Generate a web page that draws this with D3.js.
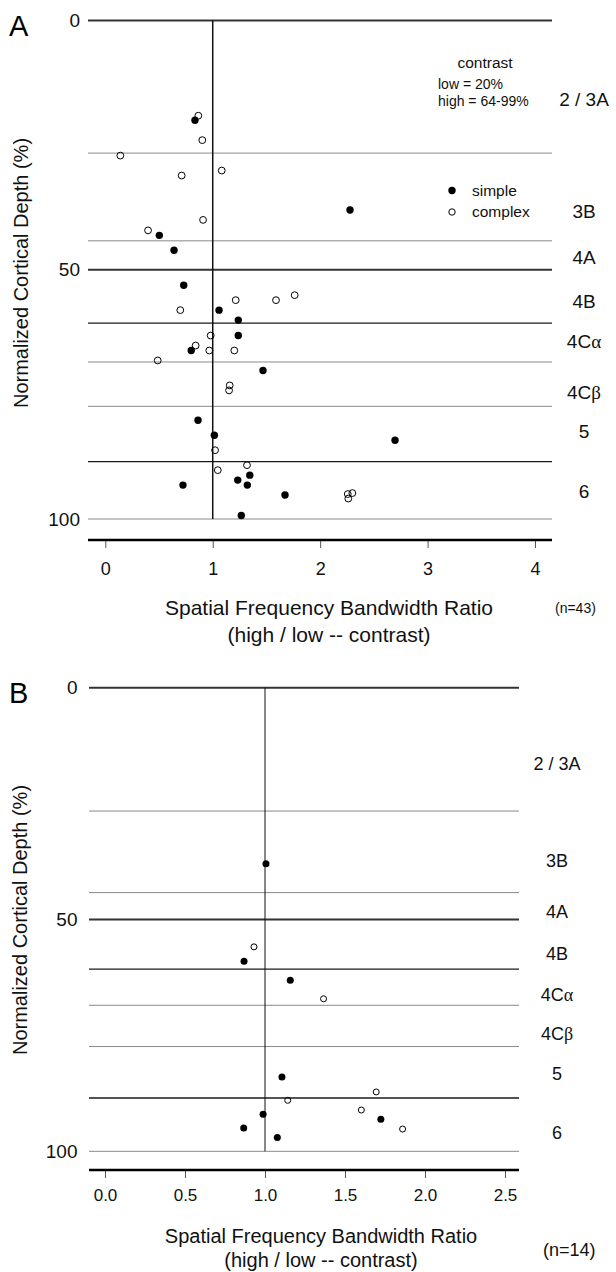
<!DOCTYPE html>
<html>
<head>
<meta charset="utf-8">
<script src="https://cdnjs.cloudflare.com/ajax/libs/d3/7.8.5/d3.min.js"></script>
<style>
body { margin: 0; background: #fff; }
svg { display: block; font-family: "Liberation Sans", Arial, sans-serif; }
</style>
</head>
<body>
<svg id="fig" width="616" height="1272"></svg>
<script>
// cortical layer boundaries (normalized depth, %)
var layerBounds = [0, 26.6, 44.2, 50, 60.7, 68.5, 77.4, 88.5, 100];
var layerNames = ["2 / 3A", "3B", "4A", "4B", "4C\u03b1", "4C\u03b2", "5", "6"];
var labelDepthA = [15.9, 38.2, 47.6, 56.4, 64.4, 74.5, 82.5, 94.5];
var labelDepthB = [16.3, 37.3, 48.3, 57.3, 66.3, 74.7, 83.3, 95.9];

var depthTicks = [0, 50, 100];
var ticksA = [0, 1, 2, 3, 4];
var ticksB = [0, 0.5, 1, 1.5, 2, 2.5];

// panel A cells: bandwidth ratio, depth, type (s = simple, c = complex)
var ratioA = [0.866, 0.835, 0.903, 0.14, 1.084, 0.711, 0.91, 0.398, 0.503, 0.64,
	2.278, 0.73, 1.214, 1.589, 1.763, 0.698, 1.059, 1.238, 0.981, 1.238,
	0.841, 0.80, 0.968, 1.201, 0.488, 1.468, 1.158, 1.152, 0.863, 1.015,
	1.022, 1.319, 1.047, 1.345, 1.233, 0.723, 1.322, 1.673, 1.266, 2.697,
	2.257, 2.30, 2.262];
var depthA = [19.1, 20.0, 24.0, 27.1, 30.1, 31.1, 40.0, 42.1, 43.1, 46.1,
	38.0, 53.1, 56.1, 56.1, 55.1, 58.1, 58.1, 60.1, 63.2, 63.2,
	65.2, 66.2, 66.2, 66.2, 68.2, 70.2, 73.2, 74.2, 80.2, 83.2,
	86.2, 89.2, 90.2, 91.2, 92.2, 93.2, 93.2, 95.2, 99.3, 84.2,
	95.0, 94.8, 95.9];
var typeA = ["c", "s", "c", "c", "c", "c", "c", "c", "s", "s",
	"s", "s", "c", "c", "c", "c", "s", "s", "c", "s",
	"c", "s", "c", "c", "c", "s", "c", "c", "s", "s",
	"c", "c", "c", "s", "s", "s", "s", "s", "s", "s",
	"c", "c", "c"];

// panel B cells
var ratioB = [1.006, 0.931, 0.869, 1.158, 1.366, 1.106, 1.142, 0.988, 0.867, 1.077,
	1.695, 1.602, 1.724, 1.86];
var depthB = [38.0, 55.9, 59.0, 63.1, 67.1, 84.0, 89.0, 92.0, 95.0, 97.0,
	87.2, 91.1, 93.1, 95.2];
var typeB = ["s", "c", "s", "s", "c", "s", "c", "s", "s", "s",
	"c", "c", "s", "c"];

var svg = d3.select("#fig");
svg.append("rect").attr("width", 616).attr("height", 1272).attr("fill", "#fff");

var toCells = function(r, d, t){
	return r.map(function(v, i){ return { ratio: v, depth: d[i], type: t[i] }; });
};

var drawPanel = function(p){
	var g = svg.append("g");
	var x = d3.scaleLinear().domain(p.xDomain).range(p.xRange);
	var y = d3.scaleLinear().domain([0, 100]).range(p.yRange);

	// layer boundary lines
	g.selectAll(".layer")
		.data(layerBounds)
		.enter().append("line")
		.attr("class", "layer")
		.attr("x1", p.lineX[0]).attr("x2", p.lineX[1])
		.attr("y1", function(d){ return y(d); })
		.attr("y2", function(d){ return y(d); })
		.attr("stroke", function(d){
			if(d === 0 || d === 50) return "#333";
			if(d === 60.7 || d === 88.5) return "#1a1a1a";
			return "#8a8a8a";
		})
		.attr("stroke-width", function(d){
			if(d === 0 || d === 50) return 2;
			if(d === 60.7 || d === 88.5) return 1.4;
			return 1;
		});

	// ratio = 1 reference line
	g.append("line")
		.attr("x1", x(1)).attr("x2", x(1))
		.attr("y1", y(0)).attr("y2", y(100))
		.attr("stroke", "#111")
		.attr("stroke-width", p.refWidth);

	// layer names (greek letters in a serif face, like the symbol font)
	var names = g.selectAll(".lname")
		.data(layerNames)
		.enter().append("text")
		.attr("class", "lname")
		.attr("x", p.labelX)
		.attr("y", function(d, i){ return y(p.labelDepth[i]); })
		.attr("dy", "0.35em")
		.attr("text-anchor", "middle")
		.style("font-size", p.labelFont + "px")
		.attr("fill", "#111");
	names.append("tspan").text(function(d){ return d.replace(/[\u03b1\u03b2]/, ""); });
	names.filter(function(d){ return /[\u03b1\u03b2]/.test(d); })
		.append("tspan")
		.style("font-family", "'Liberation Serif', 'DejaVu Serif', serif")
		.text(function(d){ return d.match(/[\u03b1\u03b2]/)[0]; });

	// x axis
	var xAxis = d3.axisBottom(x)
		.tickValues(p.ticks)
		.tickSize(8)
		.tickFormat(p.fmt);
	var ax = g.append("g")
		.attr("transform", "translate(0," + p.axisY + ")")
		.call(xAxis);
	ax.attr("font-family", null).attr("font-size", null);
	ax.select(".domain").remove();
	ax.selectAll(".tick line").attr("stroke", "#555");
	ax.selectAll(".tick text")
		.attr("y", p.tickLabelDy)
		.attr("dy", "0.35em")
		.attr("fill", "#111")
		.style("font-size", p.tickFont + "px");
	g.append("line")
		.attr("x1", p.lineX[0]).attr("x2", p.axisEnd)
		.attr("y1", p.axisY).attr("y2", p.axisY)
		.attr("stroke", "#000")
		.attr("stroke-width", 2.5);

	// y axis (depth)
	var yAxis = d3.axisLeft(y).tickValues(depthTicks).tickSize(0).tickPadding(p.yPad);
	var ay = g.append("g")
		.attr("transform", "translate(" + p.lineX[0] + ",0)")
		.call(yAxis);
	ay.attr("font-family", null).attr("font-size", null);
	ay.select(".domain").remove();
	ay.selectAll(".tick text")
		.attr("fill", "#111")
		.style("font-size", p.yTickFont + "px");

	// cells: complex first, simple drawn on top
	var cells = toCells(p.ratio, p.depth, p.type);
	g.selectAll(".complex")
		.data(cells.filter(function(d){ return d.type === "c"; }))
		.enter().append("circle")
		.attr("class", "complex")
		.attr("cx", function(d){ return x(d.ratio); })
		.attr("cy", function(d){ return y(d.depth); })
		.attr("r", p.rOpen)
		.attr("fill", "none")
		.attr("stroke", "#000")
		.attr("stroke-width", 1);
	g.selectAll(".simple")
		.data(cells.filter(function(d){ return d.type === "s"; }))
		.enter().append("circle")
		.attr("class", "simple")
		.attr("cx", function(d){ return x(d.ratio); })
		.attr("cy", function(d){ return y(d.depth); })
		.attr("r", p.rFill)
		.attr("fill", "#000");

	// panel letter
	g.append("text")
		.attr("x", 9).attr("y", p.letterY)
		.style("font-size", "29px")
		.attr("fill", "#000")
		.text(p.letter);

	// axis titles
	g.append("text")
		.attr("transform", "translate(" + p.yTitleX + "," + p.yTitleY + ") rotate(-90)")
		.attr("text-anchor", "middle")
		.style("font-size", "20px")
		.attr("fill", "#111")
		.text("Normalized Cortical Depth (%)");
	g.append("text")
		.attr("x", p.titleX).attr("y", p.titleY[0])
		.attr("dy", "0.35em")
		.attr("text-anchor", "middle")
		.style("font-size", p.titleFont + "px")
		.attr("fill", "#111")
		.text("Spatial Frequency Bandwidth Ratio");
	g.append("text")
		.attr("x", p.titleX).attr("y", p.titleY[1])
		.attr("dy", "0.35em")
		.attr("text-anchor", "middle")
		.style("font-size", p.titleFont + "px")
		.attr("fill", "#111")
		.text("(high / low -- contrast)");
	g.append("text")
		.attr("x", p.nX).attr("y", p.nY)
		.attr("dy", "0.35em")
		.style("font-size", p.nFont + "px")
		.attr("fill", "#111")
		.text(p.nText);

	return { g: g, x: x, y: y };
};

var panelA = drawPanel({
	letter: "A", letterY: 36,
	xDomain: [0, 4], xRange: [105.3, 535],
	yRange: [20.5, 519],
	lineX: [88, 552], axisEnd: 552, axisY: 540,
	ticks: ticksA, fmt: d3.format("d"),
	tickLabelDy: 29, tickFont: 18, yTickFont: 19, yPad: 8,
	refWidth: 1.5,
	labelX: 584, labelDepth: labelDepthA, labelFont: 19,
	ratio: ratioA, depth: depthA, type: typeA,
	rOpen: 3.4, rFill: 3.7,
	yTitleX: 28, yTitleY: 273,
	titleX: 329, titleY: [608, 635], titleFont: 21,
	nX: 555, nY: 608, nFont: 14, nText: "(n=43)"
});

var panelB = drawPanel({
	letter: "B", letterY: 703,
	xDomain: [0, 2.5], xRange: [105, 505],
	yRange: [687.7, 1151.3],
	lineX: [89, 519], axisEnd: 519, axisY: 1170,
	ticks: ticksB, fmt: d3.format(".1f"),
	tickLabelDy: 25, tickFont: 17, yTickFont: 19, yPad: 11.5,
	refWidth: 1,
	labelX: 557, labelDepth: labelDepthB, labelFont: 18,
	ratio: ratioB, depth: depthB, type: typeB,
	rOpen: 3, rFill: 3.5,
	yTitleX: 27, yTitleY: 920,
	titleX: 321, titleY: [1236, 1260], titleFont: 20,
	nX: 543, nY: 1250, nFont: 18, nText: "(n=14)"
});

// legend (panel A)
var legend = panelA.g.append("g");
legend.append("text")
	.attr("x", 485).attr("y", 63).attr("dy", "0.35em")
	.attr("text-anchor", "middle")
	.style("font-size", "15.5px").attr("fill", "#111")
	.text("contrast");
legend.append("text")
	.attr("x", 438).attr("y", 84).attr("dy", "0.35em")
	.style("font-size", "14px").attr("fill", "#111")
	.text("low = 20%");
legend.append("text")
	.attr("x", 438).attr("y", 101).attr("dy", "0.35em")
	.style("font-size", "14px").attr("fill", "#111")
	.text("high = 64-99%");
legend.append("circle")
	.attr("cx", 452).attr("cy", 190.5).attr("r", 3.7).attr("fill", "#000");
legend.append("circle")
	.attr("cx", 452).attr("cy", 212).attr("r", 3.2)
	.attr("fill", "none").attr("stroke", "#000");
legend.append("text")
	.attr("x", 472).attr("y", 190.5).attr("dy", "0.35em")
	.style("font-size", "15.5px").attr("fill", "#111")
	.text("simple");
legend.append("text")
	.attr("x", 472).attr("y", 212).attr("dy", "0.35em")
	.style("font-size", "15.5px").attr("fill", "#111")
	.text("complex");
</script>
</body>
</html>
